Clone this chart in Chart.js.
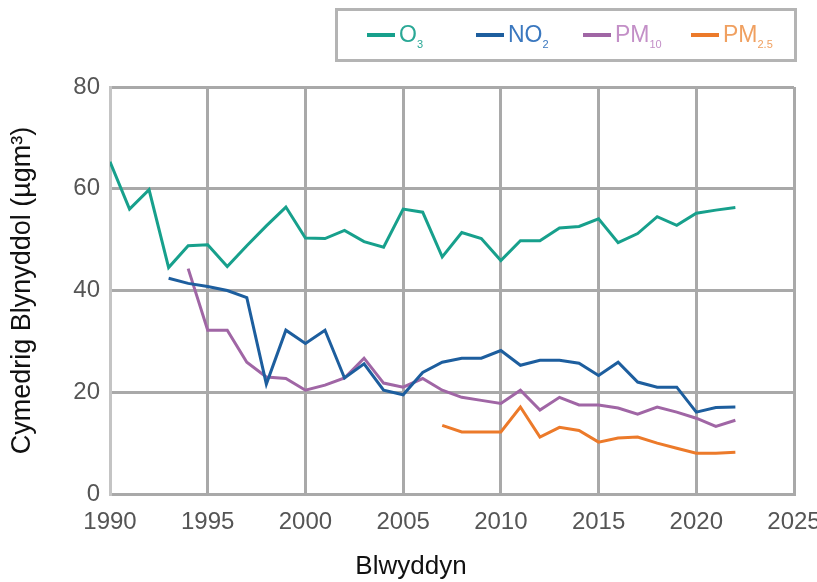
<!DOCTYPE html>
<html>
<head>
<meta charset="utf-8">
<script src="https://cdn.jsdelivr.net/npm/chart.js@4.4.1/dist/chart.umd.min.js"></script>
<style>
  body { margin: 0; background: #fff; font-family: "Liberation Sans", Arial, sans-serif; }
  #wrap { position: relative; width: 817px; height: 582px; }
  #legend { position: absolute; left: 335px; top: 8px; width: 462px; height: 54px; box-sizing: border-box; border: 3px solid #b4b4b4; }
  .item { position: absolute; top: 11px; font-size: 23px; line-height: 24px; white-space: nowrap; }
  .item .swatch { display: inline-block; width: 28px; height: 4px; vertical-align: middle; margin-right: 4px; position: relative; top: -1px; }
  .item sub { font-size: 11px; }
  #xtitle { position: absolute; left: 0; width: 822px; top: 550px; text-align: center; font-size: 26px; color: #111; }
</style>
</head>
<body>
<div id="wrap">
  <canvas id="myChart" width="817" height="582"></canvas>
  <div id="legend"></div>
  <div id="xtitle">Blwyddyn</div>
</div>
<script>
const years = [1990, 1991, 1992, 1993, 1994, 1995, 1996, 1997, 1998, 1999,
  2000, 2001, 2002, 2003, 2004, 2005, 2006, 2007, 2008, 2009,
  2010, 2011, 2012, 2013, 2014, 2015, 2016, 2017, 2018, 2019,
  2020, 2021, 2022];

const o3 = [65.3, 56, 59.8, 44.5, 48.8, 49, 44.7, 48.8, 52.7, 56.4,
  50.3, 50.2, 51.8, 49.6, 48.5, 56, 55.4, 46.6, 51.4, 50.2,
  45.9, 49.8, 49.8, 52.3, 52.6, 54.1, 49.4, 51.2, 54.5, 52.8,
  55.2, 55.8, 56.3];

const no2 = [null, null, null, 42.4, 41.4, 40.8, 40, 38.6, 21.6, 32.2,
  29.6, 32.2, 22.8, 25.6, 20.4, 19.5, 23.9, 25.9, 26.7, 26.7,
  28.2, 25.3, 26.3, 26.3, 25.7, 23.3, 25.9, 22, 21, 21,
  16.1, 17, 17.1];

const pm10 = [null, null, null, null, 44.3, 32.2, 32.2, 25.9, 23, 22.7,
  20.4, 21.4, 22.8, 26.7, 21.8, 21, 22.7, 20.4, 19, 18.4,
  17.8, 20.4, 16.5, 19, 17.5, 17.5, 16.9, 15.7, 17.1, 16.1,
  14.9, 13.3, 14.5];

const pm25 = [null, null, null, null, null, null, null, null, null, null,
  null, null, null, null, null, null, null, 13.5, 12.2, 12.2,
  12.2, 17.1, 11.2, 13.1, 12.5, 10.2, 11, 11.2, 10, 9,
  8, 8, 8.2];

const seriesNames = [['O', '3'], ['NO', '2'], ['PM', '10'], ['PM', '2.5']];
const lineColors = ['#17a08c', '#1d5e9e', '#a066a5', '#ec7a2a'];
const textColors = ['#2aa896', '#3b78bf', '#c38fc7', '#f0a060'];
const legendX = [29, 138, 245, 353];

const xTicks = [1990, 1995, 2000, 2005, 2010, 2015, 2020, 2025];
const yTicks = [0, 20, 40, 60, 80];

const toPoints = (vals) => years.map((yr, i) => ({ x: yr, y: vals[i] })).filter(p => p.y !== null);

const legend = document.getElementById('legend');
seriesNames.forEach((name, i) => {
    const el = document.createElement('div');
    el.className = 'item';
    el.style.left = legendX[i] + 'px';
    el.style.color = textColors[i];
    el.innerHTML = `<span class="swatch" style="background:${lineColors[i]}"></span>${name[0]}<sub>${name[1]}</sub>`;
    legend.appendChild(el);
});

const gridColor = '#a9a9a9';

const ctx = document.getElementById('myChart').getContext('2d');
new Chart(ctx, {
    type: 'line',
    data: {
        datasets: [o3, no2, pm10, pm25].map((vals, i) => ({
            label: seriesNames[i].join(''),
            data: toPoints(vals),
            borderColor: lineColors[i],
            backgroundColor: lineColors[i],
            borderWidth: 3,
            pointRadius: 0,
            tension: 0,
            fill: false
        }))
    },
    options: {
        responsive: false,
        animation: false,
        layout: { padding: { top: 87, right: 23, left: 0, bottom: 0 } },
        plugins: { legend: { display: false }, tooltip: { enabled: false } },
        scales: {
            x: {
                type: 'linear',
                min: 1990,
                max: 2025,
                afterBuildTicks: (scale) => { scale.ticks = xTicks.map(v => ({ value: v })); },
                afterFit: (scale) => {
                    scale.height = 88;
                    scale.paddingLeft = 0;
                    scale.paddingRight = 0;
                },
                grid: { color: gridColor, lineWidth: 3, drawTicks: false },
                border: { color: gridColor, width: 3 },
                ticks: {
                    padding: 14,
                    color: '#555',
                    maxRotation: 0,
                    font: { family: 'Liberation Sans', size: 24 },
                    callback: (v) => String(v)
                }
            },
            y: {
                min: 0,
                max: 80,
                afterBuildTicks: (scale) => { scale.ticks = yTicks.map(v => ({ value: v })); },
                afterFit: (scale) => {
                    scale.width = 110;
                    scale.paddingTop = 0;
                    scale.paddingBottom = 0;
                },
                grid: { color: gridColor, lineWidth: 3, drawTicks: false },
                border: { color: '#c4c4c4', width: 3 },
                ticks: {
                    padding: 10,
                    color: '#555',
                    font: { family: 'Liberation Sans', size: 24 }
                },
                title: {
                    display: true,
                    text: 'Cymedrig Blynyddol (µgm³)',
                    color: '#111',
                    font: { family: 'Liberation Sans', size: 27 },
                    padding: { top: 6, bottom: 0 }
                }
            }
        }
    }
});
</script>
</body>
</html>
